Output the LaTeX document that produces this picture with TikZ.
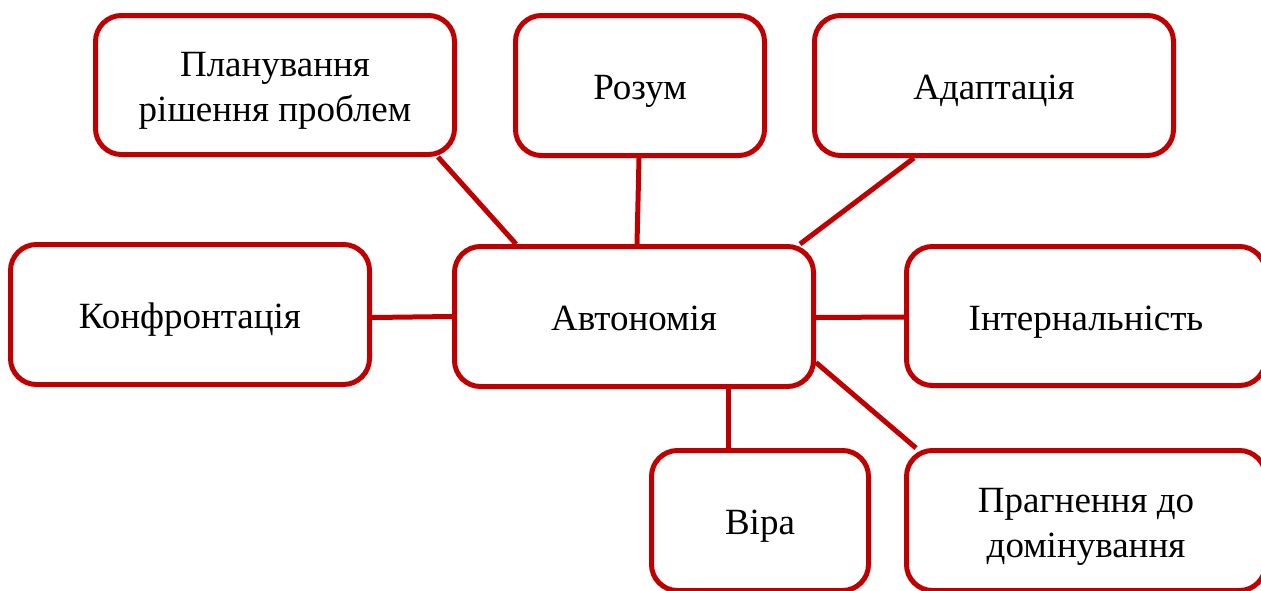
\documentclass[tikz,border=0pt]{standalone}
\usepackage{fontspec}
\setmainfont{Liberation Serif}
\usetikzlibrary{backgrounds}
\definecolor{boxred}{HTML}{C00000}
\newcommand\lowtext[1]{\raisebox{-5pt}[\height][\depth]{\begin{tabular}{@{}c@{}}#1\end{tabular}}}
\begin{document}
\begin{tikzpicture}[x=1pt,y=-1pt,
  rbox/.style={draw=boxred, line width=5pt, rounded corners=26pt, fill=white,
    inner sep=0pt, font=\fontsize{37}{45}\selectfont},
  link/.style={draw=boxred, line width=5pt}]
\useasboundingbox (0,0) rectangle (1261,590);
\clip (0,0) rectangle (1261,590);
\node[rbox, minimum width=359pt, minimum height=139pt] (plan) at (275,85) {\lowtext{Планування\\рішення проблем}};
\node[rbox, minimum width=249pt, minimum height=140pt] (rozum) at (640,85.5) {\lowtext{Розум}};
\node[rbox, minimum width=359pt, minimum height=140pt] (adapt) at (994,85.5) {\lowtext{Адаптація}};
\node[rbox, minimum width=359pt, minimum height=140pt] (konf) at (190,314.5) {\lowtext{Конфронтація}};
\node[rbox, minimum width=359pt, minimum height=140pt] (avt) at (634,316.5) {\lowtext{Автономія}};
\node[rbox, minimum width=359pt, minimum height=139pt] (intern) at (1086,316) {\lowtext{Інтернальність}};
\node[rbox, minimum width=217pt, minimum height=140pt] (vira) at (760,520.5) {\lowtext{Віра}};
\node[rbox, minimum width=359pt, minimum height=140pt] (prag) at (1086,520.5) {\lowtext{Прагнення до\\домінування}};
\begin{scope}[on background layer]
\path[link] ([xshift=163pt]plan.south) -- ([xshift=-118pt]avt.north);
\path[link] ([xshift=-1pt]rozum.south) -- ([xshift=3pt]avt.north);
\path[link] ([xshift=-80pt]adapt.south) -- ([xshift=166pt]avt.north);
\path[link] ([yshift=-3pt]konf.east) -- ([yshift=0pt]avt.west);
\path[link] ([yshift=-1pt]avt.east) -- ([yshift=-1pt]intern.west);
\path[link] ([xshift=94pt]avt.south) -- ([xshift=-32pt]vira.north);
\path[link] ([yshift=-46pt]avt.east) -- ([xshift=-170pt]prag.north);
\end{scope}
\end{tikzpicture}
\end{document}
